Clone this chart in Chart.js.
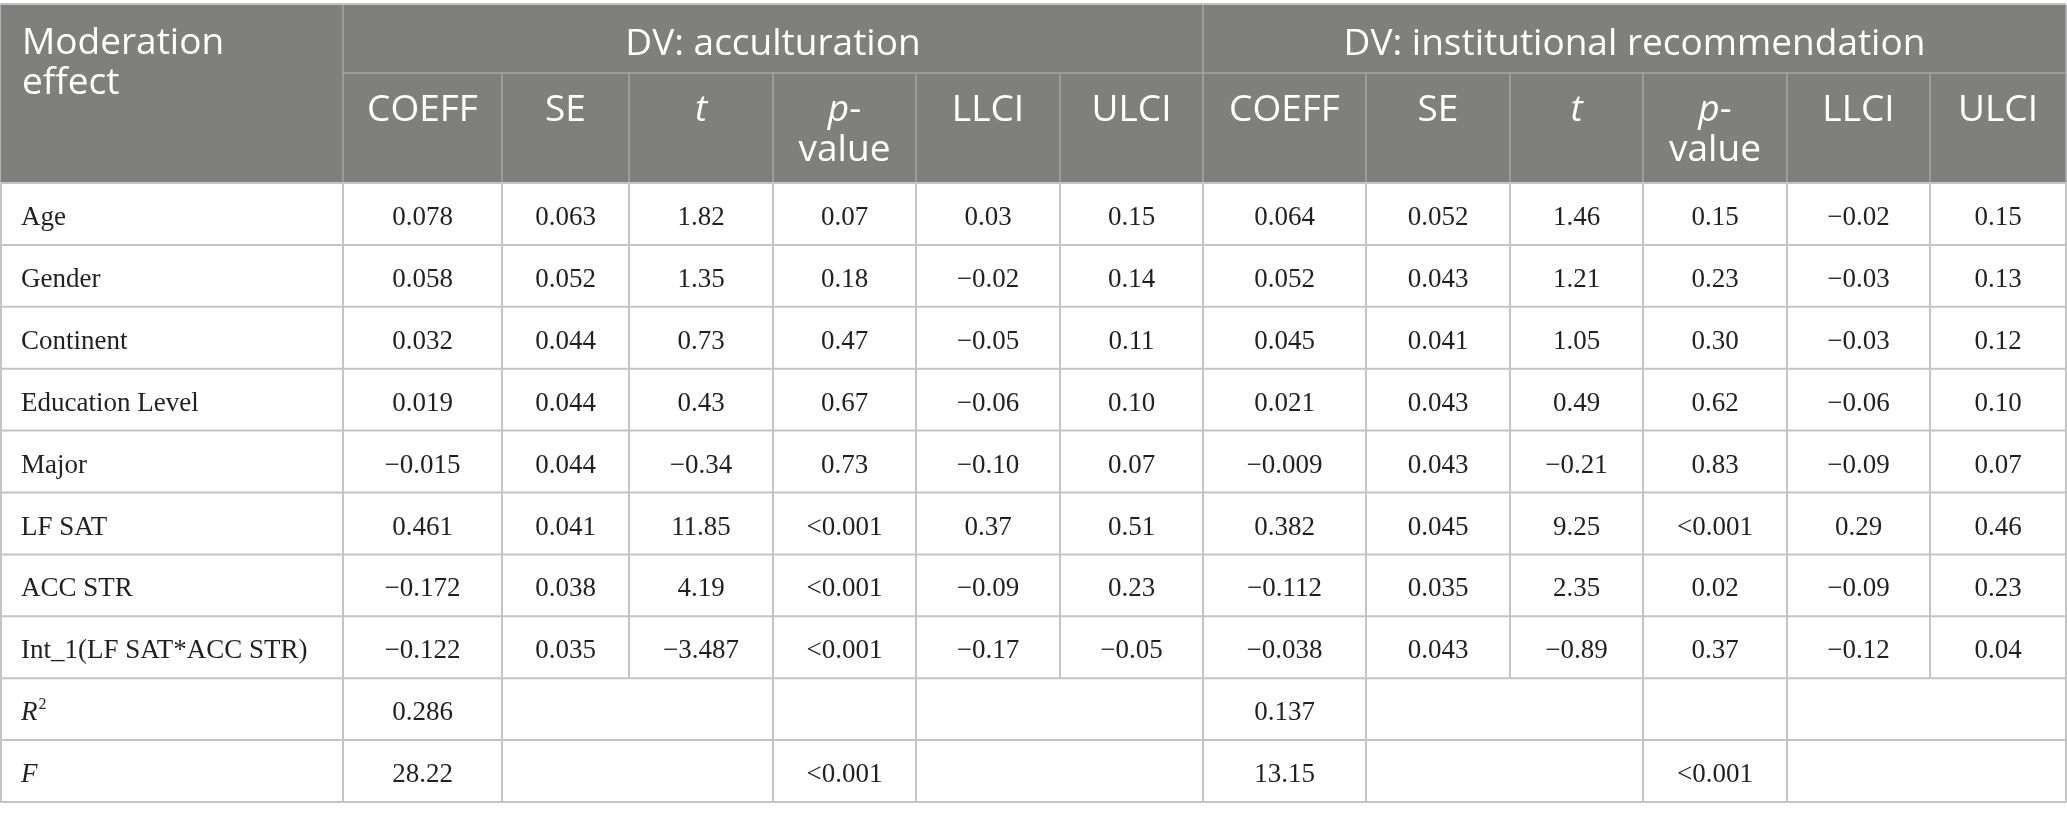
<!DOCTYPE html>
<html>
<head>
<meta charset="utf-8">
<title>Moderation effect</title>
<script src="https://cdn.jsdelivr.net/npm/chart.js@4.4.1/dist/chart.umd.min.js"></script>
<style>
  html, body { margin: 0; padding: 0; background: #fff; }
  #wrap { width: 2067px; height: 820px; }
</style>
</head>
<body>
<div id="wrap"><canvas id="tableChart" width="2067" height="820"></canvas></div>
<script>
// table contents
const effects = ['Age', 'Gender', 'Continent', 'Education Level', 'Major', 'LF SAT', 'ACC STR', 'Int_1(LF SAT*ACC STR)'];
const groupHeaders = ['DV: acculturation', 'DV: institutional recommendation'];
const statHeaders = ['COEFF', 'SE', 't', 'p-value', 'LLCI', 'ULCI'];

const accCoeff = ['0.078', '0.058', '0.032', '0.019', '\u22120.015', '0.461', '\u22120.172', '\u22120.122'];
const accSE    = ['0.063', '0.052', '0.044', '0.044', '0.044', '0.041', '0.038', '0.035'];
const accT     = ['1.82', '1.35', '0.73', '0.43', '\u22120.34', '11.85', '4.19', '\u22123.487'];
const accP     = ['0.07', '0.18', '0.47', '0.67', '0.73', '<0.001', '<0.001', '<0.001'];
const accLLCI  = ['0.03', '\u22120.02', '\u22120.05', '\u22120.06', '\u22120.10', '0.37', '\u22120.09', '\u22120.17'];
const accULCI  = ['0.15', '0.14', '0.11', '0.10', '0.07', '0.51', '0.23', '\u22120.05'];

const insCoeff = ['0.064', '0.052', '0.045', '0.021', '\u22120.009', '0.382', '\u22120.112', '\u22120.038'];
const insSE    = ['0.052', '0.043', '0.041', '0.043', '0.043', '0.045', '0.035', '0.043'];
const insT     = ['1.46', '1.21', '1.05', '0.49', '\u22120.21', '9.25', '2.35', '\u22120.89'];
const insP     = ['0.15', '0.23', '0.30', '0.62', '0.83', '<0.001', '0.02', '0.37'];
const insLLCI  = ['\u22120.02', '\u22120.03', '\u22120.03', '\u22120.06', '\u22120.09', '0.29', '\u22120.09', '\u22120.12'];
const insULCI  = ['0.15', '0.13', '0.12', '0.10', '0.07', '0.46', '0.23', '0.04'];

const fitR2 = ['0.286', '0.137'];
const fitF  = ['28.22', '13.15'];
const fitFp = ['<0.001', '<0.001'];

const accCols = [accCoeff, accSE, accT, accP, accLLCI, accULCI];
const insCols = [insCoeff, insSE, insT, insP, insLLCI, insULCI];

// layout (scale units)
const colEdges = [0, 343, 502, 629, 773, 916, 1060, 1203, 1366, 1510, 1643, 1787, 1930, 2066];
const fitEdges = [0, 343, 502, 773, 916, 1203, 1366, 1643, 1787, 2066];
const tableTop = 5;
const groupLine = 73;
const headBottom = 183;
const rowH = 61.9;
const headBg = '#7f807e';
const headLine = '#a5a6a4';
const bodyLine = '#c4c4c4';
const headFont = '"Open Sans", "Noto Sans", sans-serif';
const headSize = '37px ';
const bodyFont = '"Liberation Serif", "DejaVu Serif", serif';
const inkColor = '#231f20';

const tablePlugin = {
  id: 'tablePlugin',
  afterDraw(chart) {
    const ctx = chart.ctx;
    const xs = chart.scales.x;
    const ys = chart.scales.y;
    const px = v => xs.getPixelForValue(v);
    const py = v => ys.getPixelForValue(v);
    const nRows = effects.length + 2;
    const rowTop = i => headBottom + i * rowH;

    ctx.save();

    // header background
    ctx.fillStyle = headBg;
    ctx.fillRect(px(0), py(tableTop), px(2066) - px(0), py(headBottom) - py(tableTop));

    const line = (x0, y0, x1, y1, color, w) => {
      ctx.strokeStyle = color;
      ctx.lineWidth = w;
      ctx.beginPath();
      ctx.moveTo(px(x0), py(y0));
      ctx.lineTo(px(x1), py(y1));
      ctx.stroke();
    };

    // header grid
    line(0, 4, 2066, 4, '#c0c0c0', 2);
    line(343, tableTop, 343, headBottom, headLine, 1.5);
    line(1203, tableTop, 1203, headBottom, headLine, 1.5);
    line(343, groupLine, 2066, groupLine, headLine, 1.5);
    for (let i = 2; i < colEdges.length - 1; i++) {
      if (i === 7) continue;
      line(colEdges[i], groupLine, colEdges[i], headBottom, headLine, 1.5);
    }
    line(0.5, tableTop, 0.5, headBottom, '#b0b0b0', 1);
    line(2066, tableTop, 2066, headBottom, headLine, 1.5);

    // body grid
    for (let r = 0; r <= nRows; r++) {
      line(0, rowTop(r), 2066, rowTop(r), bodyLine, 2);
    }
    for (let r = 0; r < nRows; r++) {
      const edges = r < effects.length ? colEdges : fitEdges;
      edges.forEach(e => line(e === 0 ? 1 : e, rowTop(r), e === 0 ? 1 : e, rowTop(r + 1), bodyLine, 2));
    }

    // header text
    const hUp = headSize + headFont;
    const hIt = 'italic ' + headSize + headFont;
    ctx.fillStyle = '#ffffff';
    ctx.textBaseline = 'alphabetic';
    ctx.font = hUp;
    ctx.textAlign = 'left';
    ctx.fillText('Moderation', px(22), py(54));
    ctx.fillText('effect', px(22), py(94));
    ctx.textAlign = 'center';
    ctx.fillText(groupHeaders[0], px((343 + 1203) / 2), py(55));
    ctx.fillText(groupHeaders[1], px((1203 + 2066) / 2), py(55));

    const statHead = (c0) => {
      statHeaders.forEach((h, k) => {
        const cx = px((colEdges[c0 + k] + colEdges[c0 + k + 1]) / 2);
        if (h === 't') {
          ctx.font = hIt;
          ctx.textAlign = 'center';
          ctx.fillText('t', cx, py(121));
        } else if (h === 'p-value') {
          ctx.font = hIt;
          const wp = ctx.measureText('p').width;
          ctx.font = hUp;
          const wd = ctx.measureText('-').width;
          const x0 = cx - (wp + wd) / 2;
          ctx.textAlign = 'left';
          ctx.font = hIt;
          ctx.fillText('p', x0, py(121));
          ctx.font = hUp;
          ctx.fillText('-', x0 + wp, py(121));
          ctx.textAlign = 'center';
          ctx.fillText('value', cx, py(161));
        } else {
          ctx.font = hUp;
          ctx.textAlign = 'center';
          ctx.fillText(h, cx, py(121));
        }
      });
    };
    statHead(1);
    statHead(7);

    // body text
    ctx.fillStyle = inkColor;
    ctx.font = '27px ' + bodyFont;
    const base = r => py(rowTop(r) + 42);
    const cellC = (a, b, r, s) => {
      ctx.textAlign = 'center';
      ctx.fillText(s, px((a + b) / 2), base(r));
    };

    effects.forEach((name, r) => {
      ctx.textAlign = 'left';
      ctx.fillText(name, px(21), base(r));
      accCols.forEach((col, k) => cellC(colEdges[1 + k], colEdges[2 + k], r, col[r]));
      insCols.forEach((col, k) => cellC(colEdges[7 + k], colEdges[8 + k], r, col[r]));
    });

    const rR2 = effects.length;
    const rF = effects.length + 1;
    // R squared label
    ctx.textAlign = 'left';
    ctx.font = 'italic 27px ' + bodyFont;
    ctx.fillText('R', px(21), base(rR2));
    const wR = ctx.measureText('R').width;
    ctx.font = '16px ' + bodyFont;
    ctx.fillText('2', px(21) + wR + 1, base(rR2) - 11);
    ctx.font = 'italic 27px ' + bodyFont;
    ctx.fillText('F', px(21), base(rF));

    ctx.font = '27px ' + bodyFont;
    cellC(343, 502, rR2, fitR2[0]);
    cellC(1203, 1366, rR2, fitR2[1]);
    cellC(343, 502, rF, fitF[0]);
    cellC(773, 916, rF, fitFp[0]);
    cellC(1203, 1366, rF, fitF[1]);
    cellC(1643, 1787, rF, fitFp[1]);

    ctx.restore();
  }
};

const ctx = document.getElementById('tableChart').getContext('2d');
const tableChart = new Chart(ctx, {
  type: 'scatter',
  data: { datasets: [] },
  options: {
    responsive: false,
    animation: false,
    layout: { padding: 0 },
    plugins: {
      legend: { display: false },
      tooltip: { enabled: false }
    },
    scales: {
      x: { type: 'linear', min: 0, max: 2067, display: false },
      y: { type: 'linear', min: 0, max: 820, reverse: true, display: false }
    }
  },
  plugins: [tablePlugin]
});
</script>
</body>
</html>
